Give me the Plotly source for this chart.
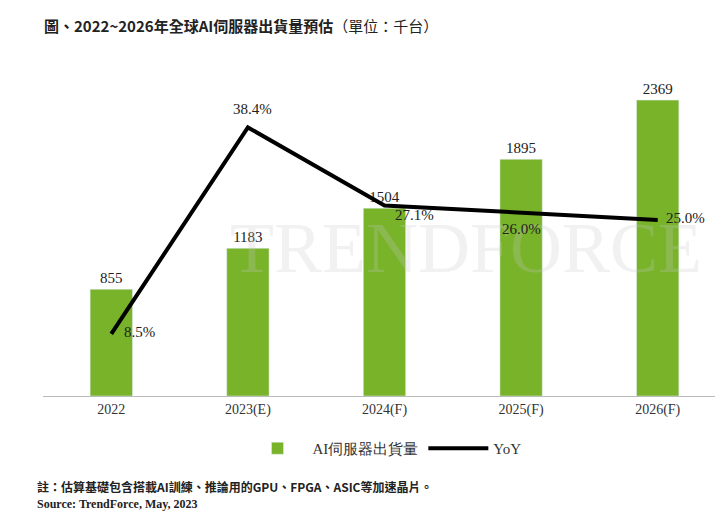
import plotly.graph_objects as go

years = ["2022", "2023(E)", "2024(F)", "2025(F)", "2026(F)"]
shipments = [855, 1183, 1504, 1895, 2369]
yoy = [8.5, 38.4, 27.1, 26.0, 25.0]
yoy_labels = ["8.5%", "38.4%", "27.1%", "26.0%", "25.0%"]
label_shift = [(28, 2), (5, 18), (30, -10), (0, -16), (28, 2)]

fig = go.Figure()
fig.add_trace(go.Bar(x=years, y=shipments, name="AI伺服器出貨量", marker_color="#78b32a",
                     width=0.31, text=[str(v) for v in shipments], textposition="outside",
                     textfont=dict(family="Liberation Serif", size=15, color="#222"), cliponaxis=False))
fig.add_trace(go.Scatter(x=years, y=yoy, name="YoY", yaxis="y2", mode="lines",
                         line=dict(color="black", width=4)))
ann = [
    dict(text="<b>圖、2022~2026年全球AI伺服器出貨量預估</b>（單位：千台）", x=-0.002, y=1.13, xref="paper", yref="paper",
         xanchor="left", yanchor="middle", showarrow=False, font=dict(family="Noto Sans CJK TC", size=15, color="#222")),
    dict(text="<b>註：估算基礎包含搭載AI訓練、推論用的GPU、FPGA、ASIC等加速晶片。</b>", x=-0.012, y=-0.275, xref="paper", yref="paper",
         xanchor="left", yanchor="middle", showarrow=False, font=dict(family="Noto Sans CJK TC", size=12, color="#222")),
    dict(text="<b>Source: TrendForce, May, 2023</b>", x=-0.012, y=-0.33, xref="paper", yref="paper",
         xanchor="left", yanchor="middle", showarrow=False, font=dict(family="Liberation Serif", size=12, color="#222")),
    dict(text="TRENDFORCE", x=0.62, y=0.45, xref="paper", yref="paper", showarrow=False,
         font=dict(family="Liberation Serif", size=72, color="rgba(200,200,200,0.25)")),
]
for i, (v, t, (dx, dy)) in enumerate(zip(yoy, yoy_labels, label_shift)):
    ann.append(dict(text=t, x=i, y=v, xref="x", yref="y2", showarrow=False, xshift=dx, yshift=dy,
                    font=dict(family="Liberation Serif", size=15, color="#222")))
fig.update_layout(
    width=723, height=528, paper_bgcolor="white", plot_bgcolor="white",
    margin=dict(l=35, r=5, t=60, b=140),
    font=dict(family="Liberation Serif", size=14, color="#333"),
    xaxis=dict(type="category", showline=True, linecolor="#bbb", ticks="", tickfont=dict(size=14)),
    yaxis=dict(range=[0, 2626], visible=False),
    yaxis2=dict(range=[-0.5, 47], overlaying="y", visible=False),
    showlegend=True,
    legend=dict(orientation="h", x=0.5, xanchor="center", y=-0.16, yanchor="middle",
                font=dict(size=15), itemwidth=60),
    annotations=ann,
)
fig.write_html("out.html")
